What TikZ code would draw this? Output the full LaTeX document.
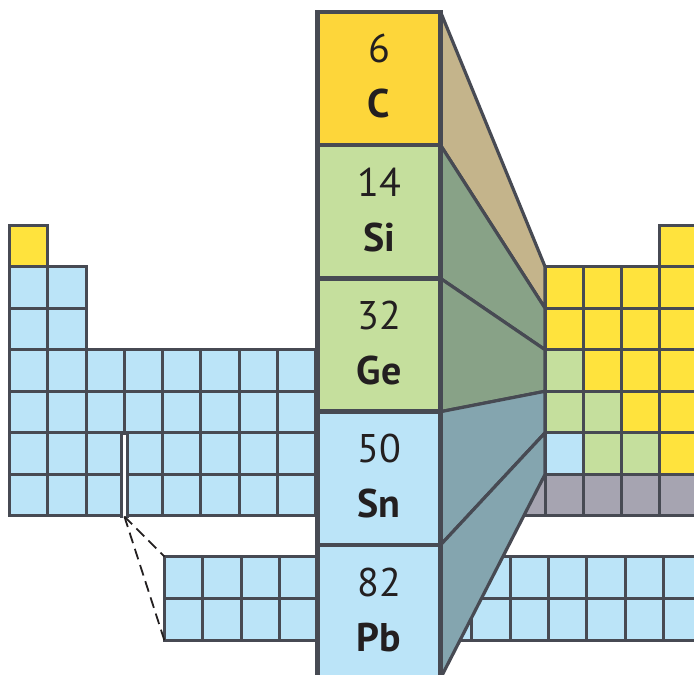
\documentclass[tikz,border=0pt]{standalone}
\usepackage{fontspec}
\setmainfont{PT Sans}
\usetikzlibrary{calc}
\definecolor{bord}{HTML}{474A53}
\definecolor{yel}{HTML}{FFE33D}
\definecolor{cyel}{HTML}{FDD63A}
\definecolor{blu}{HTML}{BBE4F8}
\definecolor{grn}{HTML}{C5DF9D}
\definecolor{gry}{HTML}{A6A4B1}
\definecolor{tan}{HTML}{C4B48B}
\definecolor{fgrn}{HTML}{88A287}
\definecolor{fblu}{HTML}{84A5AF}
\definecolor{ink}{HTML}{231F20}
\pgfdeclarelayer{bg}
\pgfsetlayers{bg,main}
\tikzset{
  cell/.style={draw=bord, line width=3pt},
  fan/.style={draw=bord, line width=3.2pt, line join=round},
  ebox/.style={draw=bord, line width=4.5pt, minimum width=123pt, minimum height=133.3pt, outer sep=0pt, inner sep=0pt},
  num/.style={anchor=base, inner sep=0pt, text=ink, font=\fontsize{40}{48}\selectfont},
  sym/.style={anchor=base, inner sep=0pt, text=ink, font=\fontsize{40}{48}\selectfont\bfseries},
  dashline/.style={draw=ink, line width=1.8pt, dash pattern=on 11pt off 6pt},
  gapline/.style={draw=bord, line width=2.6pt}
}
\newcommand\cellat[5]{\draw[cell, fill=#5] ({#1+#3*38.25},{#2+#4*41.57}) rectangle ++(38.25,41.57);}
\begin{document}
\begin{tikzpicture}[x=1pt,y=-1pt]
\useasboundingbox (0,0) rectangle (694,675);
% central column
\node[ebox, fill=cyel] (C) at (379,78.45) {};
\node[ebox, fill=grn] (Si) at (379,211.75) {};
\node[ebox, fill=grn] (Ge) at (379,345.05) {};
\node[ebox, fill=blu] (Sn) at (379,478.35) {};
\node[ebox, fill=blu] (Pb) at (379,611.65) {};
\foreach \b/\n/\s in {C/6/C, Si/14/Si, Ge/32/Ge, Sn/50/Sn, Pb/82/Pb}{
  \node[num] (n\b) at ($(\b.north)+(0,51)$) {\n};
  \node[sym] (s\b) at ($(\b.north)+(0,106)$) {\s};
}
% right-hand anchor points of the fan
\foreach \k in {0,...,5}{\coordinate (R\k) at (545,{266.57+\k*41.57});}
\coordinate (gapb) at (124.4,516.5);
\coordinate (LBtl) at (164.5,556.7);
\coordinate (LBbl) at (164.5,640.7);
\begin{pgfonlayer}{bg}
\fill[white] (0,0) rectangle (694,675);
\clip (0,0) rectangle (694,675);
% left block
\cellat{9.5}{225}{0}{0}{yel}
\foreach \r in {1,2}{\foreach \c in {0,1}{\cellat{9.5}{225}{\c}{\r}{blu}}}
\foreach \r in {3,...,6}{\foreach \c in {0,...,8}{\cellat{9.5}{225}{\c}{\r}{blu}}}
% right block
\foreach \c/\r/\col in {3/0/yel,
  0/1/yel,1/1/yel,2/1/yel,3/1/yel,
  0/2/yel,1/2/yel,2/2/yel,3/2/yel,
  0/3/grn,1/3/yel,2/3/yel,3/3/yel,
  0/4/grn,1/4/grn,2/4/yel,3/4/yel,
  0/5/blu,1/5/grn,2/5/grn,3/5/yel,
  -1/6/gry,0/6/gry,1/6/gry,2/6/gry,3/6/gry}{\cellat{545}{225}{\c}{\r}{\col}}
% lower block
\foreach \r in {0,1}{\foreach \c in {0,...,14}{
  \draw[cell, fill=blu] ({164.5+\c*38.4},{556.7+\r*42}) rectangle ++(38.4,42);}}
% fan
\filldraw[fan, fill=tan] (C.north east) -- (R0) -- (R1) -- (C.south east) -- cycle;
\filldraw[fan, fill=fgrn] (Si.north east) -- (R1) -- (R2) -- (Si.south east) -- cycle;
\filldraw[fan, fill=fgrn] (Ge.north east) -- (R2) -- (R3) -- (Ge.south east) -- cycle;
\filldraw[fan, fill=fblu] (Sn.north east) -- (R3) -- (R4) -- (Sn.south east) -- cycle;
\filldraw[fan, fill=fblu] (Pb.north east) -- (R4) -- (R5) -- (Pb.south east) -- cycle;
\end{pgfonlayer}
% gap between blocks in the lowest two rows
\fill[white] (122.7,434.8) rectangle (126.1,519);
\draw[gapline] (121.4,433.5) -- (121.4,517.5);
\draw[gapline] (127.4,433.5) -- (127.4,517.5);
% dashed connectors
\draw[dashline] (gapb) -- (LBtl);
\draw[dashline] (gapb) -- (LBbl);
\end{tikzpicture}
\end{document}
